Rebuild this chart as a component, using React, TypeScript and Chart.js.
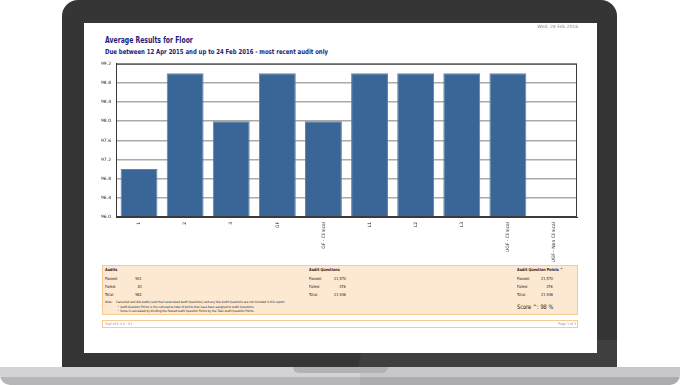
import React, { useEffect, useRef } from "react";
import { Chart, registerables } from "chart.js";
Chart.register(...registerables);

const categories = ["1", "2", "3", "GF", "GF - Clinical", "L1", "L2", "L3", "UGF - Clinical", "UGF - Non Clinical"];
const averageResults = [97.0, 99.0, 98.0, 99.0, 98.0, 99.0, 99.0, 99.0, 99.0, 96.0];
const yMin = 96.0;
const yMax = 99.2;
const yStep = 0.4;

const rowLabels = ["Passed:", "Failed:", "Total:"];
const auditValues = ["901", "81", "982"];
const questionValues = ["21,570", "376", "21,946"];
const pointValues = ["21,570", "376", "21,946"];

const FONT = "'DejaVu Sans', Verdana, sans-serif";

type TP = {
  x: number;
  y: number;
  size: number;
  text: string;
  bold?: boolean;
  color?: string;
  right?: boolean;
  sx?: number;
};

function T({ x, y, size, text, bold, color, right, sx = 1 }: TP) {
  const style: React.CSSProperties = {
    position: "absolute",
    top: y - size / 2,
    fontSize: size,
    lineHeight: `${size}px`,
    fontFamily: FONT,
    fontWeight: bold ? 700 : 400,
    color: color || "#222",
    whiteSpace: "nowrap",
    transform: `scaleX(${sx})`,
    transformOrigin: right ? "right center" : "left center",
  };
  if (right) style.right = 680 - x;
  else style.left = x;
  return <div style={style}>{text}</div>;
}

const framePlugin = {
  id: "frame",
  afterDraw(chart: any) {
    const { ctx, chartArea: a } = chart;
    ctx.save();
    ctx.strokeStyle = "#3a3a3a";
    ctx.lineWidth = 1;
    ctx.strokeRect(a.left + 0.5, a.top + 0.5, a.right - a.left - 1, a.bottom - a.top - 1);
    ctx.restore();
  },
};

function BarChart() {
  const ref = useRef<HTMLCanvasElement | null>(null);
  useEffect(() => {
    if (!ref.current) return;
    const chart = new Chart(ref.current, {
      type: "bar",
      data: {
        labels: categories,
        datasets: [
          {
            data: averageResults,
            backgroundColor: "#3a6597",
            borderColor: "#5a83b2",
            borderWidth: 1,
            categoryPercentage: 1,
            barPercentage: 0.8,
          },
        ],
      },
      options: {
        animation: false,
        responsive: false,
        events: [],
        layout: { padding: { top: 6, right: 5, left: 0, bottom: 0 } },
        plugins: { legend: { display: false }, tooltip: { enabled: false } },
        scales: {
          x: {
            grid: { display: false, drawTicks: false },
            border: { display: true, color: "#3a3a3a" },
            ticks: {
              minRotation: 90,
              maxRotation: 90,
              autoSkip: false,
              font: { size: 4.5, family: FONT },
              color: "#222",
              padding: 5,
            },
            afterFit(s: any) {
              s.height = 49;
            },
          },
          y: {
            min: yMin,
            max: yMax,
            ticks: {
              stepSize: yStep,
              callback: (v: any) => Number(v).toFixed(1),
              font: { size: 4.5, family: FONT },
              color: "#222",
              padding: 5,
            },
            grid: { color: "#aaaaaa", lineWidth: 1.5, drawTicks: false },
            border: { display: true, color: "#3a3a3a" },
            afterFit(s: any) {
              s.width = 26;
            },
          },
        },
      } as any,
      plugins: [framePlugin],
    });
    return () => chart.destroy();
  }, []);
  return (
    <canvas
      ref={ref}
      width={492}
      height={210}
      style={{ position: "absolute", left: 90, top: 56, width: 492, height: 210 }}
    />
  );
}

export default function App() {
  const navy = "#1c1c7a";
  const rows = [279, 287, 294.5];
  return (
    <div style={{ position: "absolute", left: 0, top: 0, width: 680, height: 385, overflow: "hidden", background: "#fff" }}>
      {/* laptop bezel */}
      <div style={{ position: "absolute", left: 62, top: 0, width: 555, height: 368, background: "#353535", borderRadius: "16px 16px 0 0" }} />
      <div
        style={{
          position: "absolute",
          left: 358,
          top: 340,
          width: 259,
          height: 28,
          background: "rgba(255,255,255,0.05)",
          clipPath: "polygon(6px 0, 100% 0, 100% 100%, 0 100%)",
        }}
      />
      {/* screen */}
      <div style={{ position: "absolute", left: 84, top: 23, width: 513, height: 330, background: "#fff" }} />
      {/* base */}
      <div style={{ position: "absolute", left: 0, top: 367, width: 680, height: 18, borderRadius: "0 0 10px 10px", overflow: "hidden" }}>
        <div style={{ position: "absolute", left: 0, top: 0, width: 680, height: 10, background: "#d3d3d5" }} />
        <div style={{ position: "absolute", left: 0, top: 10, width: 680, height: 8, background: "#b6b6b8" }} />
        <div style={{ position: "absolute", left: 360, top: 0, width: 320, height: 18, background: "rgba(0,0,0,0.05)" }} />
      </div>
      <div style={{ position: "absolute", left: 293, top: 367, width: 95, height: 6, background: "#b2b2b4", borderRadius: "0 0 6px 6px" }} />

      {/* header */}
      <T x={578} y={27.5} size={4.5} text="Wed, 24 Feb 2016" color="#888" right />
      <T x={105} y={40.5} size={8.5} bold text="Average Results for Floor" color={navy} sx={0.72} />
      <T x={105} y={52} size={6.8} bold text="Due between 12 Apr 2015 and up to 24 Feb 2016 - most recent audit only" color={navy} sx={0.79} />

      <BarChart />

      {/* summary box */}
      <div style={{ position: "absolute", left: 102, top: 265, width: 474, height: 48, background: "#fde9d2", border: "1.5px solid #f9c98e" }} />
      <T x={105} y={270} size={4} bold text="Audits" sx={0.85} />
      <T x={309} y={270} size={4} bold text="Audit Questions" sx={0.85} />
      <T x={517} y={270} size={4} bold text="Audit Question Points ^" sx={0.85} />
      {rowLabels.map((l, i) => (
        <React.Fragment key={l}>
          <T x={105} y={rows[i]} size={4} text={l} sx={0.85} />
          <T x={142} y={rows[i]} size={4} text={auditValues[i]} right sx={0.85} />
          <T x={309} y={rows[i]} size={4} text={l} sx={0.85} />
          <T x={346} y={rows[i]} size={4} text={questionValues[i]} right sx={0.85} />
          <T x={517} y={rows[i]} size={4} text={l} sx={0.85} />
          <T x={553} y={rows[i]} size={4} text={pointValues[i]} right sx={0.85} />
        </React.Fragment>
      ))}
      <T x={105} y={302.5} size={3.2} text="Note:" sx={0.85} />
      <T x={116} y={302.5} size={3.2} text="Cancelled and N/A Audits (and their associated Audit Questions) and any N/A Audit Questions are not included in this report." sx={0.85} />
      <T x={117} y={307.5} size={3.2} text="^ Audit Question Points is the cumulative total of points that have been assigned to Audit Questions." sx={0.85} />
      <T x={117} y={312} size={3.2} text="^ Score is calculated by dividing the Passed Audit Question Points by the Total Audit Question Points." sx={0.85} />
      <T x={517} y={307} size={6.2} text="Score ^:  98 %" sx={0.82} color="#111" />

      {/* footer */}
      <div style={{ position: "absolute", left: 102, top: 319.5, width: 474, height: 6.5, background: "#fff", border: "1.5px solid #f9c98e" }} />
      <T x={105} y={323.5} size={3.8} text="TopCal 4.4.2 - A1" color="#999" sx={0.85} />
      <T x={576} y={323.5} size={3.8} text="Page 1 of 1" color="#999" right sx={0.85} />
    </div>
  );
}
